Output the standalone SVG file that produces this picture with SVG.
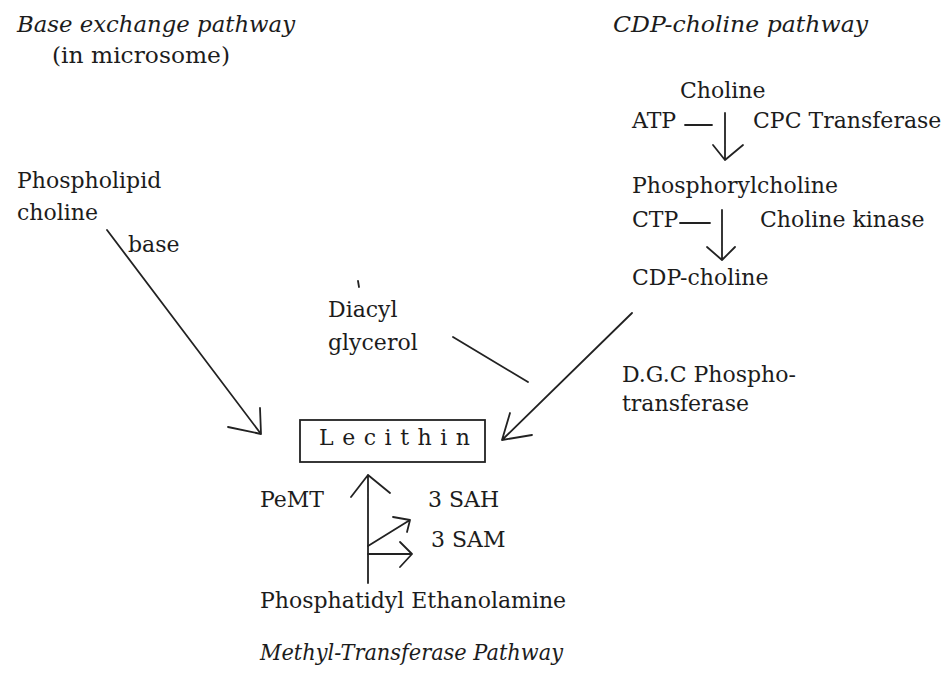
<svg xmlns="http://www.w3.org/2000/svg" width="946" height="676" viewBox="0 0 946 676">
<style>
text{font-family:"DejaVu Serif","Liberation Serif",serif;font-size:22px;fill:#1c1c1c}
.it{font-style:italic}
.ln{stroke:#222;stroke-width:1.8;fill:none;stroke-linecap:round;stroke-linejoin:round}
</style>
<rect width="946" height="676" fill="#ffffff"/>
<g id="titles">
<text class="it" x="17" y="32" textLength="278" lengthAdjust="spacingAndGlyphs">Base exchange pathway</text>
<text x="52" y="63" textLength="178" lengthAdjust="spacingAndGlyphs">(in microsome)</text>
<text class="it" x="613" y="32" textLength="255" lengthAdjust="spacingAndGlyphs">CDP-choline pathway</text>
<text class="it" x="260" y="660" textLength="303" lengthAdjust="spacingAndGlyphs">Methyl-Transferase Pathway</text>
</g>
<g id="phospholipid">
<text x="17" y="188">Phospholipid</text>
<text x="17" y="220">choline</text>
</g>
<g id="base-label"><text x="128" y="252">base</text></g>
<g id="choline"><text x="680" y="98">Choline</text></g>
<g id="atp"><text x="632" y="128">ATP</text></g>
<g id="cpc"><text x="753" y="128">CPC Transferase</text></g>
<g id="phosphorylcholine"><text x="632" y="193">Phosphorylcholine</text></g>
<g id="ctp"><text x="632" y="227">CTP</text></g>
<g id="kinase"><text x="760" y="227">Choline kinase</text></g>
<g id="cdp-choline"><text x="632" y="285">CDP-choline</text></g>
<g id="diacylglycerol">
<text x="328" y="317">Diacyl</text>
<text x="328" y="350">glycerol</text>
</g>
<g id="dgc">
<text x="622" y="382">D.G.C Phospho-</text>
<text x="622" y="411">transferase</text>
</g>
<g id="lecithin">
<rect x="300" y="420" width="185" height="42" fill="none" stroke="#222" stroke-width="1.8"/>
<text x="319" y="445" textLength="151" lengthAdjust="spacing">Lecithin</text>
</g>
<g id="pemt"><text x="260" y="507">PeMT</text></g>
<g id="sah"><text x="428" y="507">3 SAH</text></g>
<g id="sam"><text x="431" y="547">3 SAM</text></g>
<g id="pe"><text x="260" y="608">Phosphatidyl Ethanolamine</text></g>
<g id="connectors">
<!-- base exchange -->
<path class="ln" d="M107 230 L261 434 M228 427 L261 434 L260 408"/>
<!-- choline -> phosphorylcholine -->
<path class="ln" d="M685 125 L712 125 M725 113 L725 160 M713 145 L725 160 L743 145"/>
<!-- phosphorylcholine -> CDP-choline -->
<path class="ln" d="M680 223 L710 223 M722 210 L722 260 M707 247 L722 260 L735 247"/>
<!-- diacylglycerol -->
<path class="ln" d="M453 337 L528 382"/>
<!-- CDP-choline -> lecithin -->
<path class="ln" d="M632 313 L502 440 M510 413 L502 440 L532 435"/>
<!-- PE -> lecithin -->
<path class="ln" d="M368 583 L368 475 M351 497 L368 475 L390 493"/>
<path class="ln" d="M368 546 L410 520 M393 517 L410 520 L407 532"/>
<path class="ln" d="M368 554 L412 554 M400 542 L412 554 L400 567"/>
<!-- stray marks -->
<path class="ln" d="M358 281 L359 287" stroke-width="2"/>
</g>
</svg>
